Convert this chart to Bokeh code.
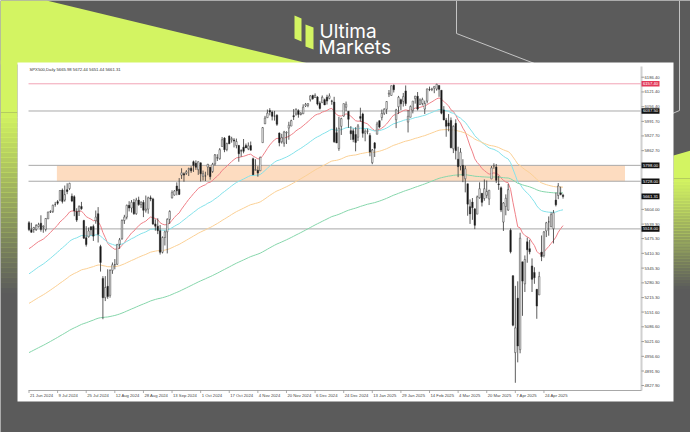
from bokeh.plotting import figure
from bokeh.models import Range1d, ColumnDataSource
from bokeh.embed import file_html
from bokeh.resources import INLINE
from bokeh.core.properties import value

# ---------------------------------------------------------------- data ----
header_text = "SPX500,Daily  5665.98 5672.44 5651.44 5661.31"

opens = [
    5545, 5514, 5516, 5515, 5528, 5543, 5526, 5516, 5562, 5592,
    5595, 5626, 5638, 5645, 5689, 5645, 5690, 5696, 5662, 5660,
    5595, 5597, 5617, 5555, 5479, 5483, 5527, 5529, 5554, 5585,
    5440, 5300, 5215, 5265, 5225, 5335, 5360, 5362, 5450, 5475,
    5555, 5570, 5622, 5610, 5635, 5585, 5645, 5625, 5635, 5600,
    5605, 5655, 5650, 5540, 5530, 5510, 5415, 5480, 5505, 5560,
    5655, 5667, 5707, 5693, 5755, 5761, 5763, 5779, 5785, 5814,
    5807, 5779, 5809, 5750, 5751, 5790, 5790, 5771, 5804, 5830,
    5827, 5881, 5918, 5868, 5927, 5911, 5910, 5885, 5886, 5862,
    5878, 5885, 5871, 5885, 5827, 5776, 5776, 5774, 5898, 5981,
    6008, 6040, 6033, 6015, 6019, 5940, 5902, 5896, 5941, 5962,
    5971, 6017, 6024, 6039, 6022, 6025, 6060, 6062, 6087, 6106,
    6097, 6099, 6072, 6074, 6087, 6098, 6093, 6082, 6077, 5942,
    5872, 5970, 6015, 6054, 6036, 5951, 5950, 5934, 5922, 6013,
    6024, 5940, 5948, 5930, 5810, 5897, 5935, 5995, 6009, 6027,
    6045, 6112, 6106, 6151, 5999, 6056, 6087, 6080, 6126, 5989,
    6010, 6040, 6092, 6103, 6066, 6070, 6046, 6081, 6133, 6132,
    6138, 6134, 6150, 6129, 6042, 5997, 5985, 5996, 5871, 5983,
    5825, 5795, 5798, 5739, 5717, 5616, 5636, 5606, 5583, 5655,
    5675, 5652, 5666, 5650, 5738, 5795, 5791, 5716, 5699, 5548,
    5617, 5601, 5512, 5312, 4973, 5213, 4986, 5373, 5276, 5461,
    5431, 5355, 5326, 5252, 5227, 5416, 5401, 5509, 5549, 5528,
    5519, 5645, 5665, 5676, 5665.98,
]
highs = [
    5552, 5545, 5527, 5539, 5545, 5578, 5534, 5565, 5594, 5600,
    5625, 5637, 5645, 5689, 5696, 5709, 5719, 5721, 5674, 5666,
    5609, 5622, 5637, 5558, 5530, 5524, 5529, 5537, 5599, 5614,
    5448, 5310, 5310, 5340, 5340, 5370, 5385, 5450, 5478, 5560,
    5580, 5625, 5640, 5645, 5650, 5655, 5660, 5640, 5645, 5665,
    5660, 5665, 5655, 5560, 5565, 5535, 5485, 5510, 5565, 5600,
    5688, 5689, 5723, 5742, 5785, 5767, 5777, 5788, 5794, 5819,
    5820, 5815, 5810, 5775, 5770, 5804, 5791, 5809, 5848, 5847,
    5874, 5923, 5922, 5898, 5930, 5924, 5918, 5916, 5887, 5869,
    5914, 5894, 5899, 5903, 5832, 5825, 5794, 5836, 5967, 6016,
    6044, 6050, 6039, 6038, 6023, 5943, 5937, 5950, 5948, 5990,
    5999, 6046, 6049, 6045, 6032, 6067, 6073, 6072, 6107, 6109,
    6115, 6103, 6080, 6106, 6092, 6109, 6115, 6087, 6100, 5965,
    6012, 6008, 6070, 6079, 6037, 5971, 5960, 5966, 5980, 6052,
    6030, 5957, 5960, 5940, 5870, 5901, 5990, 5995, 6044, 6050,
    6081, 6130, 6149, 6154, 6047, 6104, 6092, 6117, 6150, 6042,
    6062, 6082, 6104, 6121, 6093, 6096, 6083, 6136, 6145, 6140,
    6146, 6157.4, 6150, 6129, 6059, 6007, 6024, 6009, 5974, 6001,
    5880, 5874, 5825, 5796, 5717, 5648, 5654, 5610, 5665, 5723,
    5675, 5736, 5731, 5690, 5795, 5807, 5804, 5752, 5705, 5636,
    5670, 5716, 5520, 5313, 5267, 5287, 5501, 5373, 5401, 5480,
    5470, 5388, 5349, 5252, 5329, 5489, 5509, 5549, 5573, 5591,
    5601, 5678, 5720, 5704, 5672.44,
]
lows = [
    5508, 5502, 5501, 5509, 5524, 5506, 5501, 5507, 5562, 5588,
    5588, 5616, 5624, 5640, 5630, 5638, 5671, 5689, 5636, 5574,
    5549, 5575, 5602, 5475, 5440, 5480, 5490, 5465, 5541, 5458,
    5330, 5120, 5200, 5210, 5215, 5320, 5340, 5360, 5430, 5470,
    5540, 5560, 5595, 5590, 5580, 5580, 5620, 5610, 5570, 5590,
    5585, 5640, 5535, 5510, 5495, 5405, 5410, 5445, 5410, 5540,
    5652, 5665, 5666, 5667, 5738, 5726, 5756, 5751, 5765, 5769,
    5778, 5756, 5727, 5731, 5729, 5754, 5735, 5765, 5797, 5817,
    5823, 5881, 5856, 5860, 5892, 5898, 5877, 5873, 5814, 5836,
    5851, 5875, 5865, 5864, 5755, 5776, 5748, 5774, 5898, 5980,
    6008, 6018, 5996, 5995, 5972, 5882, 5894, 5880, 5892, 5911,
    5971, 5998, 6017, 6008, 6018, 6025, 6055, 6054, 6079, 6087,
    6095, 6062, 6044, 6074, 6064, 6066, 6089, 6065, 5897, 5896,
    5862, 5932, 6013, 6037, 5963, 5910, 5900, 5860, 5905, 5990,
    5920, 5904, 5935, 5838, 5803, 5835, 5935, 5961, 5996, 6020,
    6024, 6099, 6105, 6119, 5962, 6024, 6042, 6057, 6060, 5943,
    6010, 6027, 6070, 6040, 6065, 6062, 6024, 6071, 6125, 6125,
    6116, 6127, 6100, 6023, 5997, 5924, 5948, 5873, 5852, 5824,
    5746, 5776, 5724, 5679, 5576, 5540, 5558, 5517, 5583, 5651,
    5617, 5642, 5653, 5623, 5738, 5783, 5720, 5690, 5592, 5509,
    5578, 5598, 5410, 5089, 4840, 4930, 4970, 5135, 5240, 5369,
    5406, 5240, 5276, 5122, 5227, 5376, 5392, 5482, 5488, 5525,
    5454, 5617, 5649, 5666, 5651.44,
]
closes = [
    5515, 5503, 5524, 5533, 5537, 5515, 5530, 5564, 5592, 5595,
    5622, 5626, 5631, 5687, 5639, 5669, 5683, 5719, 5641, 5597,
    5557, 5616, 5607, 5477, 5449, 5509, 5514, 5486, 5570, 5494,
    5370, 5215, 5260, 5220, 5335, 5360, 5360, 5450, 5470, 5555,
    5570, 5622, 5610, 5635, 5585, 5645, 5625, 5635, 5600, 5605,
    5655, 5650, 5540, 5530, 5510, 5415, 5480, 5505, 5560, 5595,
    5678, 5685, 5686, 5670, 5765, 5755, 5770, 5784, 5774, 5797,
    5790, 5814, 5761, 5761, 5751, 5803, 5748, 5803, 5844, 5832,
    5867, 5911, 5867, 5894, 5893, 5916, 5905, 5903, 5849, 5861,
    5860, 5875, 5884, 5865, 5757, 5780, 5764, 5834, 5964, 6006,
    6028, 6033, 6014, 6015, 5979, 5898, 5921, 5945, 5944, 5975,
    5995, 6012, 6045, 6022, 6028, 6054, 6067, 6070, 6104, 6092,
    6106, 6068, 6049, 6098, 6064, 6081, 6104, 6080, 5902, 5897,
    5961, 6004, 6070, 6067, 6001, 5937, 5912, 5899, 5972, 6005,
    5939, 5948, 5950, 5857, 5866, 5873, 5980, 5967, 6027, 6045,
    6079, 6116, 6149, 6131, 6042, 6098, 6069, 6101, 6070, 6014,
    6057, 6081, 6103, 6046, 6086, 6088, 6071, 6135, 6132, 6135,
    6146, 6155, 6133, 6028, 5998, 5970, 5971, 5876, 5970, 5863,
    5792, 5856, 5752, 5783, 5627, 5584, 5611, 5534, 5659, 5695,
    5635, 5695, 5683, 5688, 5787, 5797, 5732, 5713, 5601, 5632,
    5653, 5691, 5417, 5094, 5082, 5002, 5477, 5288, 5383, 5426,
    5417, 5296, 5303, 5178, 5308, 5396, 5505, 5545, 5549, 5581,
    5589, 5624, 5707, 5670, 5661.31,
]

# one date label every 12 bars
date_labels = [
    "21 Jun 2024", "9 Jul 2024", "25 Jul 2024", "12 Aug 2024", "28 Aug 2024",
    "13 Sep 2024", "1 Oct 2024", "17 Oct 2024", "4 Nov 2024", "20 Nov 2024",
    "6 Dec 2024", "24 Dec 2024", "13 Jan 2025", "29 Jan 2025", "14 Feb 2025",
    "4 Mar 2025", "20 Mar 2025", "7 Apr 2025", "24 Apr 2025",
]
label_every = 12

price_ticks = [
    6186.40, 6121.40, 6056.40, 5991.70, 5927.70, 5862.70, 5604.00, 5539.30,
    5475.30, 5410.30, 5345.30, 5280.30, 5215.30, 5151.60, 5086.60, 5021.60,
    4956.60, 4891.90, 4827.90,
]

# horizontal levels drawn on the chart
peak_level = 6157.40
grey_levels = [6037.50, 5798.00, 5728.00, 5518.00]
zone_low, zone_high = 5728.00, 5798.00
zone_from_bar, zone_to_bar = 11.7, 250.0

# exponential moving averages: period, value at the first bar, colour
ma_periods = [20, 50, 100, 200]
ma_first_values = [5431, 5320, 5190, 4973]
ma_colors = ["#ef8088", "#84e2ea", "#fbd095", "#86d6ab"]

# --------------------------------------------------------------- layout ---
W, H = 690, 432
BAR0_PX, BAR_PX = 28.5, 2.384          # x pixel of bar 0 and bar spacing
REF_PRICE, REF_PX, PTS_PER_PX = 6186.4, 76.7, 4.406
LIME = "#d3f462"
BG = "#5b5b5b"

price_bottom = REF_PRICE - (H - REF_PX) * PTS_PER_PX
price_top = REF_PRICE + REF_PX * PTS_PER_PX

p = figure(width=W, height=H, output_backend="svg", toolbar_location=None,
           x_range=Range1d(0, W), y_range=Range1d(H, 0),
           x_axis_type=None, y_axis_type=None, min_border=0,
           background_fill_color=BG, border_fill_color=BG,
           outline_line_color=None)
p.extra_x_ranges = {"bar": Range1d(-BAR0_PX / BAR_PX, (W - BAR0_PX) / BAR_PX)}
p.extra_y_ranges = {"price": Range1d(price_bottom, price_top)}

# ---- page decoration (pixel coordinates) ----
p.patch([0, 46, 312, 0], [0, 0, 64, 64], fill_color=LIME, line_color=None)
p.quad(left=0, right=17, top=60, bottom=112, fill_color=LIME, line_color=None)
steps = 36
for k in range(steps):
    y0 = 112 + k * 180 / steps
    p.quad(left=0, right=17, top=y0, bottom=y0 + 180 / steps + 0.5,
           fill_color=LIME, fill_alpha=1 - (k + 0.5) / steps, line_color=None)
p.patch([673, 690, 690, 673], [155, 150, 178, 178], fill_color=LIME, line_color=None)
for k in range(steps):
    y0 = 178 + k * 110 / steps
    p.quad(left=673, right=690, top=y0, bottom=y0 + 110 / steps + 0.5,
           fill_color=LIME, fill_alpha=1 - (k + 0.5) / steps, line_color=None)

p.line([456, 456, 534], [0, 33, 63], line_color="#c4c4c4", line_width=1)
p.line([679, 679, 672], [0, 110, 113], line_color="#c4c4c4", line_width=1)

# logo
p.patch([294, 301, 301, 294], [15, 18, 41, 38], fill_color=LIME, line_color=None)
p.patch([305, 313, 313, 305], [24, 27, 49, 46], fill_color=LIME, line_color=None)
p.text(x=[319, 318], y=[31, 47], text=["Ultima", "Markets"],
       text_font=value("Inter"), text_font_size="19px", text_color="white",
       text_baseline="alphabetic", text_align="left")

# white chart panel
p.quad(left=17, right=673, top=62, bottom=401, fill_color="white", line_color=None)

# ---- chart ----
n = len(closes)
idx = list(range(n))
axis_px = 641
axis_bar = (axis_px - BAR0_PX) / BAR_PX

p.text(x=[29], y=[69], text=[header_text], text_font=value("Liberation Sans"),
       text_font_size="4.2px", text_color="#333333", text_baseline="middle")

p.quad(left=zone_from_bar, right=zone_to_bar, bottom=zone_low, top=zone_high,
       fill_color="#fddcc0", line_color=None,
       x_range_name="bar", y_range_name="price")

p.segment(x0=[-0.2] * len(grey_levels), x1=[axis_bar] * len(grey_levels),
          y0=grey_levels, y1=grey_levels, line_color="#a9a9a9", line_width=1,
          x_range_name="bar", y_range_name="price")
p.segment(x0=[-0.2], x1=[axis_bar], y0=[peak_level], y1=[peak_level],
          line_color="#f2a3b6", line_width=1,
          x_range_name="bar", y_range_name="price")

for period, first, color in zip(ma_periods, ma_first_values, ma_colors):
    alpha = 2.0 / (period + 1)
    ma = [float(first)]
    for c in closes[1:]:
        ma.append(ma[-1] + alpha * (c - ma[-1]))
    p.line(idx, ma, line_color=color, line_width=1,
           x_range_name="bar", y_range_name="price")

src = ColumnDataSource(dict(
    x=idx, high=highs, low=lows,
    top=[max(o, c) for o, c in zip(opens, closes)],
    bottom=[min(o, c) for o, c in zip(opens, closes)],
    fill=["#ffffff" if c >= o else "#111111" for o, c in zip(opens, closes)],
))
p.segment(x0="x", x1="x", y0="low", y1="high", source=src,
          line_color="#333333", line_width=0.8,
          x_range_name="bar", y_range_name="price")
p.vbar(x="x", width=0.62, top="top", bottom="bottom", source=src,
       fill_color="fill", line_color="#333333", line_width=0.5,
       x_range_name="bar", y_range_name="price")

# price axis
p.line([axis_px, axis_px], [66, 390], line_color="#d0d0d0", line_width=2)
p.line([BAR0_PX - 0.5, axis_px], [390, 390], line_color="#a8a8a8", line_width=1)
p.segment(x0=[axis_px] * len(price_ticks), x1=[axis_px + 2.5] * len(price_ticks),
          y0=price_ticks, y1=price_ticks, line_color="#777777", line_width=0.7,
          y_range_name="price")
p.text(x=[axis_px + 3] * len(price_ticks), y=price_ticks,
       text=["%.2f" % v for v in price_ticks], text_font=value("Liberation Sans"),
       text_font_size="4.2px", text_color="#444444", text_baseline="middle",
       y_range_name="price")

box_levels = [peak_level] + grey_levels + [closes[-1]]
box_colors = ["#e23a5a"] + ["#111111"] * (len(grey_levels) + 1)
p.rect(x=[axis_px + 9] * len(box_levels), y=box_levels, width=18, height=5.6,
       width_units="screen", height_units="screen", fill_color=box_colors,
       line_color=None, y_range_name="price")
p.text(x=[axis_px + 9] * len(box_levels), y=box_levels,
       text=["%.2f" % v for v in box_levels], text_font=value("Liberation Sans"),
       text_font_size="4.2px", text_color="white", text_align="center",
       text_baseline="middle", y_range_name="price")

# date axis
tick_bars = [i * label_every for i in range(len(date_labels))]
p.segment(x0=tick_bars, x1=tick_bars, y0=[390] * len(tick_bars),
          y1=[392.5] * len(tick_bars), line_color="#888888", line_width=0.7,
          x_range_name="bar")
p.text(x=tick_bars, y=[395] * len(tick_bars), text=date_labels, x_offset=1,
       text_font=value("Liberation Sans"), text_font_size="4.2px",
       text_color="#444444", text_baseline="middle", x_range_name="bar")

open("out.html", "w").write(file_html(p, INLINE))
